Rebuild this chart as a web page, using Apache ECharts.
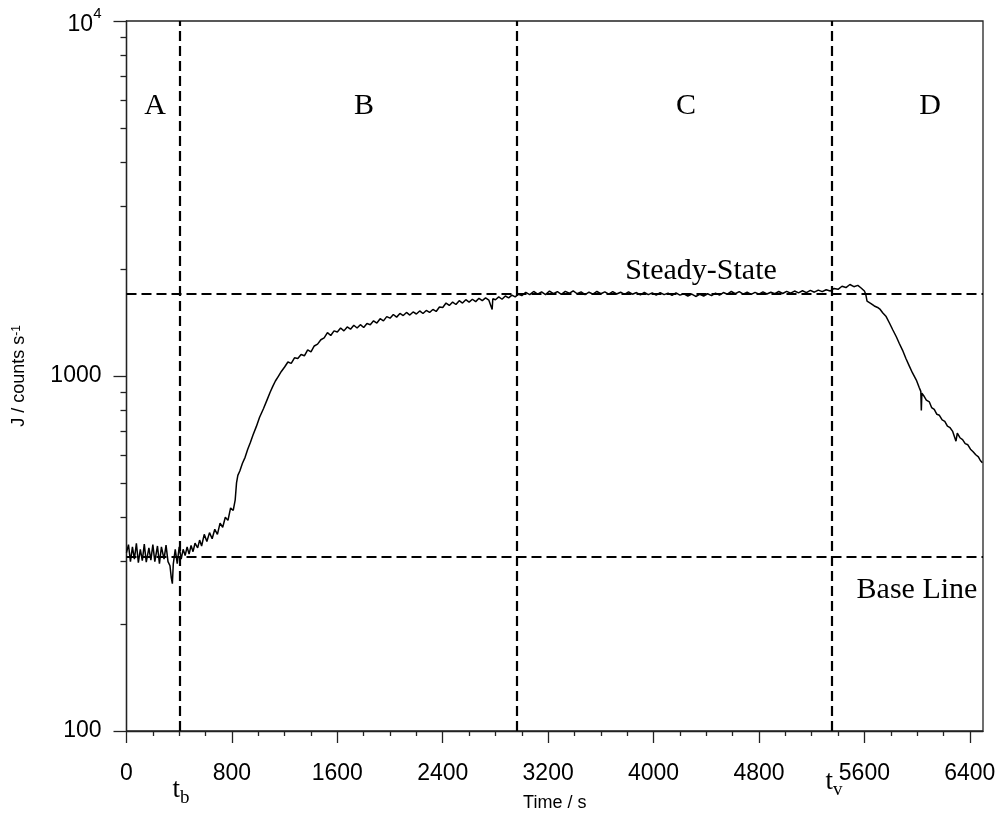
<!DOCTYPE html>
<html>
<head>
<meta charset="utf-8">
<script src="https://cdn.jsdelivr.net/npm/echarts@6/dist/echarts.min.js"></script>
<style>
html,body{margin:0;padding:0;background:#fff;}
#chart{width:1005px;height:819px;}
</style>
</head>
<body>
<div id="chart"></div>
<script>
// ---- data (J in counts/s vs time in s) ----
// A: base line and onset
var baseTimes  = [0,15,30,45,60,75,90,105,120,135,150,170,185,200,215,235,250,265,285,300,315,330,340,348,355,370,385,400,415,430,445,460,475,490,505,520,540,555,570,590,610,630,650,670,690,710,730,750,770,790,810,825];
var baseCounts = [318,335,300,330,305,338,298,325,302,336,299,328,303,335,300,332,296,330,305,334,300,292,270,260,295,325,296,330,305,325,312,330,315,333,320,338,328,345,332,358,342,362,348,370,358,385,375,400,392,425,418,448];
// B: rise
var riseTimes  = [835,845,860,880,900,920,940,960,985,1010,1040,1066,1090,1110,1130,1150,1175,1200,1225,1250,1275,1300,1325,1350,1375,1400,1425,1450,1475,1500,1525,1550,1575,1600,1625,1650,1675,1700,1725,1750,1775,1800,1825,1850,1875,1900,1925,1950,1975,2000,2025,2050,2075,2100,2125,2150,2175,2200,2225,2250,2275,2300,2325,2350,2375,2400,2425,2450,2475,2500,2525,2550,2575,2600,2625,2650,2675,2700,2725,2750,2775,2780,2800,2825,2850,2875,2900,2925,2950,2975];
var riseCounts = [500,525,540,568,590,622,650,682,720,765,810,855,900,935,968,995,1030,1060,1095,1085,1125,1120,1150,1140,1185,1170,1215,1230,1265,1280,1325,1300,1340,1330,1365,1340,1375,1355,1390,1365,1395,1370,1405,1395,1430,1410,1450,1430,1470,1455,1490,1465,1500,1480,1510,1485,1515,1495,1525,1500,1530,1510,1540,1520,1565,1560,1605,1580,1615,1590,1630,1605,1640,1615,1645,1620,1655,1630,1660,1635,1540,1650,1640,1670,1645,1680,1660,1690,1670,1700];
// C: steady state
var steadyTimes  = [3000,3030,3060,3090,3120,3150,3180,3210,3240,3270,3300,3330,3360,3390,3420,3450,3480,3510,3540,3570,3600,3630,3660,3690,3720,3750,3780,3810,3840,3870,3900,3930,3960,3990,4020,4050,4080,4110,4140,4170,4200,4230,4260,4290,4320,4350,4380,4410,4440,4470,4500,4530,4560,4590,4620,4650,4680,4710,4740,4770,4800,4830,4860,4890,4920,4950,4980,5010,5040,5070,5100,5130,5160,5190,5220,5250,5280,5310,5340];
var steadyCounts = [1685,1720,1695,1730,1700,1725,1695,1735,1705,1728,1698,1732,1710,1738,1705,1725,1695,1722,1700,1730,1705,1725,1700,1728,1702,1722,1698,1725,1700,1718,1692,1720,1695,1715,1690,1718,1695,1712,1688,1715,1690,1705,1680,1700,1675,1698,1680,1705,1685,1712,1690,1718,1700,1730,1705,1728,1700,1722,1698,1720,1700,1725,1702,1722,1705,1730,1708,1732,1712,1735,1715,1738,1718,1742,1722,1745,1728,1750,1735];
// D: after t_v
var decayTimes  = [5370,5400,5430,5460,5490,5520,5550,5575,5600,5610,5620,5650,5675,5700,5720,5740,5765,5790,5815,5843,5865,5889,5915,5941,5965,5994,6015,6028,6032,6036,6050,6070,6093,6110,6130,6150,6169,6190,6210,6230,6250,6270,6285,6295,6305,6325,6345,6365,6385,6405,6425,6445,6465,6480,6495];
var decayCounts = [1765,1755,1790,1775,1810,1785,1800,1770,1735,1700,1625,1600,1575,1560,1540,1505,1470,1410,1350,1288,1235,1183,1120,1066,1020,974,930,905,800,895,880,855,845,815,805,780,775,752,745,722,715,698,700,655,690,670,662,645,640,622,612,600,592,578,570];

var phaseBoundaries = [405, 2960, 5350];   // t_b, start of C, t_v
var levelLines = [1710, 310];              // steady-state level, base line
var xMajorTicks = [0,800,1600,2400,3200,4000,4800,5600,6400];
var xMinorTicks = [200,400,600,1000,1200,1400,1800,2000,2200,2600,2800,3000,3400,3600,3800,4200,4400,4600,5000,5200,5400,5800,6000,6200];
var yMajorTicks = [100,1000,10000];
var yMinorTicks = [200,300,400,500,600,700,800,900,2000,3000,4000,5000,6000,7000,8000,9000];

var times = baseTimes.concat(riseTimes, steadyTimes, decayTimes);
var counts = baseCounts.concat(riseCounts, steadyCounts, decayCounts);
var seriesData = times.map(function (t, i) { return [t, counts[i]]; });

var SANS = 'Liberation Sans, Arial, Helvetica, sans-serif';
var SERIF = 'Liberation Serif, Times New Roman, serif';
var AX = '#222';

var chart = echarts.init(document.getElementById('chart'), null, {renderer: 'canvas'});
function serifText(txt, x, y) {
  return {type: 'text', x: x, y: y, style: {text: txt, font: '30px ' + SERIF, fill: '#000', textAlign: 'center', textVerticalAlign: 'middle'}};
}
function subText(main, sub, x, y) {
  return {type: 'text', x: x, y: y, style: {text: '{t|' + main + '}{s|' + sub + '}', textAlign: 'center', textVerticalAlign: 'middle',
    rich: {t: {fontFamily: SERIF, fontSize: 27, lineHeight: 32, verticalAlign: 'top', fill: '#000'},
           s: {fontFamily: SERIF, fontSize: 19, lineHeight: 19, verticalAlign: 'bottom', fill: '#000'}}}};
}
var option = {
  animation: false,
  backgroundColor: '#fff',
  grid: {left: 126.5, top: 21, right: 22, bottom: 88, show: true, borderColor: AX, borderWidth: 1.3, backgroundColor: 'transparent'},
  xAxis: [{
    type: 'value', min: 0, max: 6500, position: 'bottom',
    name: 'Time / s', nameLocation: 'middle', nameGap: 63,
    nameTextStyle: {fontFamily: SANS, fontSize: 18, color: '#000'},
    axisLine: {show: true, onZero: false, lineStyle: {color: AX, width: 1.3}},
    axisTick: {show: true, length: 12, customValues: xMajorTicks, lineStyle: {color: AX, width: 1.3}},
    axisLabel: {show: true, margin: 31, customValues: xMajorTicks, fontFamily: SANS, fontSize: 23, color: '#000',
      formatter: function (v) { return String(Math.round(v)); }},
    splitLine: {show: false}
  }, {
    type: 'value', min: 0, max: 6500, position: 'bottom',
    axisLine: {show: false, onZero: false},
    axisTick: {show: true, length: 5, customValues: xMinorTicks, lineStyle: {color: AX, width: 1.3}},
    axisLabel: {show: false},
    splitLine: {show: false}
  }],
  yAxis: [{
    type: 'log', logBase: 10, min: 100, max: 10000, position: 'left',
    name: 'J / counts s{s|-1}', nameLocation: 'middle', nameGap: 98,
    nameTextStyle: {fontFamily: SANS, fontSize: 18, color: '#000',
      rich: {s: {fontFamily: SANS, fontSize: 12, verticalAlign: 'top', lineHeight: 12, color: '#000'}}},
    axisLine: {show: true, onZero: false, lineStyle: {color: AX, width: 1.3}},
    axisTick: {show: true, length: 13, customValues: yMajorTicks, lineStyle: {color: AX, width: 1.3}},
    axisLabel: {show: true, margin: 25, customValues: yMajorTicks, fontFamily: SANS, fontSize: 23, color: '#000',
      formatter: function (v) {
        var r = Math.round(v);
        if (r === 10000) return '{b|10}{s|4}';
        return String(r);
      },
      rich: {
        b: {fontFamily: SANS, fontSize: 23, lineHeight: 30, verticalAlign: 'bottom', color: '#000'},
        s: {fontFamily: SANS, fontSize: 15, lineHeight: 15, verticalAlign: 'top', color: '#000'}
      }},
    splitLine: {show: false}
  }, {
    type: 'log', logBase: 10, min: 100, max: 10000, position: 'left',
    axisLine: {show: false, onZero: false},
    axisTick: {show: true, length: 6, customValues: yMinorTicks, lineStyle: {color: AX, width: 1.3}},
    axisLabel: {show: false},
    splitLine: {show: false}
  }],
  series: [{
    type: 'line', xAxisIndex: 0, yAxisIndex: 0,
    data: seriesData, showSymbol: false, symbol: 'none',
    lineStyle: {color: '#000', width: 1.5},
    z: 3,
    markLine: {
      silent: true, symbol: ['none', 'none'],
      label: {show: false},
      lineStyle: {color: '#000', width: 2.2, type: [10, 5]},
      data: phaseBoundaries.map(function (t) { return {xAxis: t}; })
        .concat(levelLines.map(function (j) { return {yAxis: j}; }))
    }
  }],
  graphic: [
    serifText('A', 155, 106),
    serifText('B', 364, 106),
    serifText('C', 686, 106),
    serifText('D', 930, 106),
    serifText('Steady-State', 701, 271),
    serifText('Base Line', 917, 590),
    subText('t', 'b', 181, 792),
    subText('t', 'v', 834, 784)
  ]
};
chart.setOption(option);
</script>
</body>
</html>
